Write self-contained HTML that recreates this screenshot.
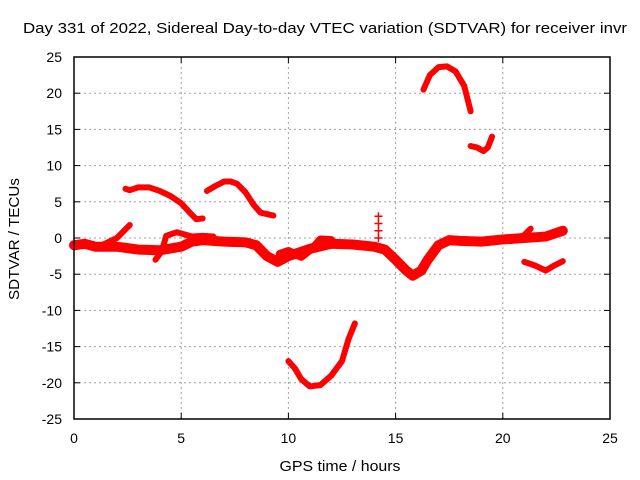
<!DOCTYPE html>
<html><head><meta charset="utf-8"><style>
body{margin:0;background:#fff;}
svg{display:block;font-family:"Liberation Sans",sans-serif;}
</style></head><body>
<svg id="chart" width="640" height="480">
<text x="325" y="33" font-size="15" text-anchor="middle" textLength="604" lengthAdjust="spacingAndGlyphs">Day 331 of 2022, Sidereal Day-to-day VTEC variation (SDTVAR) for receiver invr</text>
<text x="340" y="471" font-size="15" text-anchor="middle" textLength="121" lengthAdjust="spacingAndGlyphs">GPS time / hours</text>
<text transform="translate(19,239) rotate(-90)" font-size="15" text-anchor="middle" textLength="122" lengthAdjust="spacingAndGlyphs">SDTVAR / TECUs</text>
<g id="grid"></g><g id="series"></g><g id="axes"></g>
</svg>
<script>
const xTicks=[0,5,10,15,20,25];
const yTicks=[-25,-20,-15,-10,-5,0,5,10,15,20,25];
const mainBand=[[0,-1],[0.5,-0.8],[1,-1.2],[1.5,-1.2],[2,-1.2],[3,-1.6],[4,-1.7],[5,-1.2],[5.5,-0.5],[6,-0.3],[7,-0.5],[8,-0.6],[8.5,-1],[9,-2.5],[9.5,-3.3],[10,-2.5],[11,-1.5],[12,-0.8],[13,-0.9],[14,-1.2],[14.5,-1.6],[15,-3],[15.5,-4.5],[15.8,-5.2],[16.2,-4.5],[16.5,-3],[17,-1],[17.5,-0.3],[18,-0.4],[19,-0.5],[20,-0.2],[21,0],[22,0.2],[22.8,1]];
const riseA=[[1.3,-1],[2,0],[2.6,1.8]];
const loopB=[[3.8,-3],[4.1,-1.8],[4.3,0.3],[4.8,0.8],[5.5,0.2],[6,0.3],[6.5,0.2]];
const band10=[[9.6,-2.2],[10,-1.8],[10.6,-2.6],[11.2,-1.2],[11.5,-0.2],[12,-0.3]];
const riseC=[[20.4,-0.4],[21,0.4],[21.3,1.3]];
const arcA=[[2.4,6.8],[2.6,6.6],[3,7],[3.5,7],[4,6.5],[4.5,5.8],[5,4.8],[5.4,3.5],[5.7,2.6],[6,2.7]];
const arcB=[[6.2,6.5],[6.6,7.2],[7,7.8],[7.3,7.8],[7.6,7.5],[8,6.3],[8.4,4.5],[8.7,3.5],[9,3.3],[9.3,3.1]];
const trough=[[10,-17],[10.3,-18],[10.6,-19.5],[11,-20.5],[11.5,-20.3],[12,-19],[12.5,-17],[12.8,-14],[13.1,-11.8]];
const peak=[[16.3,20.5],[16.6,22.5],[17,23.6],[17.4,23.7],[17.8,23],[18.2,21],[18.5,17.5]];
const arcE=[[18.5,12.7],[18.8,12.5],[19.1,12],[19.3,12.5],[19.5,14]];
const arcF=[[21,-3.3],[21.5,-3.8],[22,-4.5],[22.4,-3.8],[22.8,-3.2]];
const spike=[[14.2,0],[14.2,1],[14.2,2],[14.2,3]];
const X0=74,X1=610,Y0=419,Y1=57;
const sx=v=>X0+(v-0)/(25-0)*(X1-X0);
const sy=v=>Y0-(v+25)/50*(Y0-Y1);
const NS="http://www.w3.org/2000/svg";
function mk(t,a,p){const e=document.createElementNS(NS,t);for(const k in a)e.setAttribute(k,a[k]);p.appendChild(e);return e;}
const grid=document.getElementById('grid'),axes=document.getElementById('axes'),ser=document.getElementById('series');
xTicks.forEach(t=>{
  if(t>0&&t<25){const g=mk('line',{x1:sx(t),x2:sx(t),y1:Y1,y2:Y0,stroke:'#a0a0a0','stroke-dasharray':'2,3'},grid);
  }
  mk('line',{x1:sx(t),x2:sx(t),y1:Y0,y2:Y0-6,stroke:'#000'},axes);
  mk('line',{x1:sx(t),x2:sx(t),y1:Y1,y2:Y1+6,stroke:'#000'},axes);
  const l=mk('text',{x:sx(t),y:443,'font-size':14,'text-anchor':'middle'},axes);l.textContent=t;
  
});
yTicks.forEach(t=>{
  if(t>-25&&t<25){const g=mk('line',{x1:X0,x2:X1,y1:sy(t),y2:sy(t),stroke:'#a0a0a0','stroke-dasharray':'2,3'},grid);
  }
  mk('line',{x1:X0,x2:X0+6,y1:sy(t),y2:sy(t),stroke:'#000'},axes);
  mk('line',{x1:X1,x2:X1-6,y1:sy(t),y2:sy(t),stroke:'#000'},axes);
  const l=mk('text',{x:62,y:sy(t)+5,'font-size':14,'text-anchor':'end'},axes);l.textContent=t;
  
});
const fr=mk('rect',{x:X0,y:Y1,width:X1-X0,height:Y0-Y1,fill:'none',stroke:'#000','stroke-width':1.5},axes);

function draw(arr,w,name){
  const p=mk('polyline',{points:arr.map(d=>sx(d[0])+','+sy(d[1])).join(' '),fill:'none',stroke:'#f00','stroke-width':w,'stroke-linejoin':'round','stroke-linecap':'round'},ser);
  
}
draw(mainBand,10,'main-band-series');
draw(riseA,6,'rise-a-series');
draw(loopB,6,'loop-b-series');
draw(band10,8,'band-10h-series');
draw(riseC,6,'rise-c-series');
draw(arcA,6,'arc-a-series');
draw(arcB,6,'arc-b-series');
draw(trough,6,'trough-series');
draw(peak,6,'peak-series');
draw(arcE,6,'arc-e-series');
draw(arcF,6,'arc-f-series');
spike.forEach(d=>{
  const m=mk('path',{d:`M${sx(d[0])-4},${sy(d[1])}h8M${sx(d[0])},${sy(d[1])-4}v8`,stroke:'#f00','stroke-width':1.5},ser);
  
});
</script>
</body></html>
